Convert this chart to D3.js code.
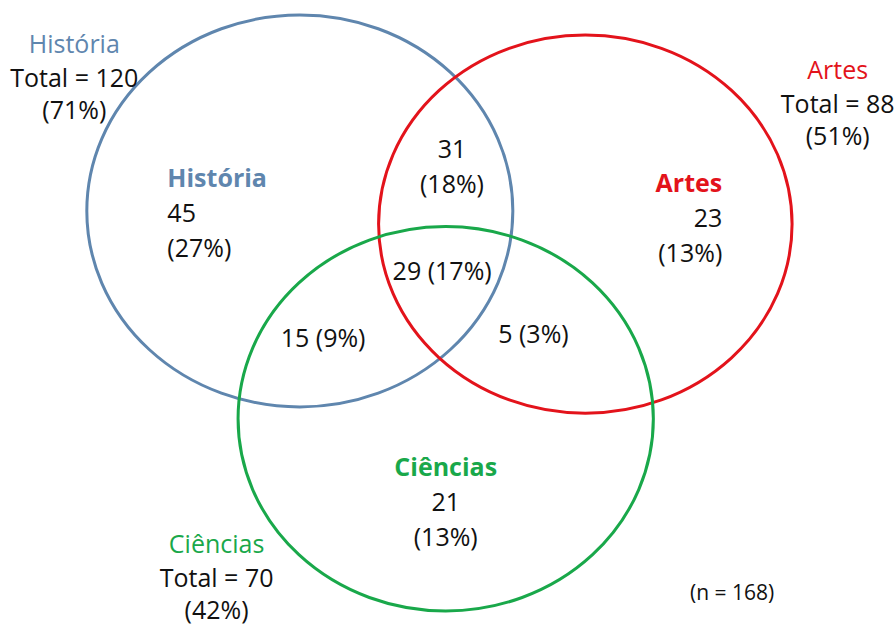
<!DOCTYPE html>
<html>
<head>
<meta charset="utf-8">
<script src="https://cdn.jsdelivr.net/npm/d3@7"></script>
<style>
  body { margin: 0; background: #fff; }
  text { font-family: "Open Sans", "Noto Sans", sans-serif; }
</style>
</head>
<body>
<div id="chart"></div>
<script>
// sets of the diagram
const sets = ["História", "Artes", "Ciências"];
const setColors = ["#5f86ae", "#e3131b", "#19a84a"];
const setTotals = [120, 88, 70];
const setPercents = ["71%", "51%", "42%"];
const n = 168;

// regions: only-one-set values and overlaps
const regions = ["H", "A", "C", "HA", "HAC", "HC", "AC"];
const regionValues = [45, 23, 21, 31, 29, 15, 5];
const regionPercents = ["27%", "13%", "13%", "18%", "17%", "9%", "3%"];

const width = 895, height = 626;

// the original is stretched a bit horizontally, so circles are drawn as ellipses
const x = d3.scaleLinear().domain([0, 100]).range([0, width]);
const y = d3.scaleLinear().domain([0, 100]).range([0, height]);

// ellipse layout (in percent of the picture)
const shapes = [
    {cx: 33.5, cy: 33.7, rx: 23.8, ry: 31.3},
    {cx: 65.4, cy: 35.8, rx: 23.1, ry: 30.2},
    {cx: 49.8, cy: 66.9, rx: 23.2, ry: 30.7}
];

const svg = d3.select("#chart")
    .append("svg")
    .attr("width", width)
    .attr("height", height);

svg.selectAll("ellipse")
    .data(shapes)
    .join("ellipse")
    .attr("cx", d => x(d.cx))
    .attr("cy", d => y(d.cy))
    .attr("rx", d => x(d.rx))
    .attr("ry", d => y(d.ry))
    .attr("fill", "none")
    .attr("stroke", (d, i) => setColors[i])
    .attr("stroke-width", 3);

const fs = 25;

// outside labels with totals
const outside = [
    {x: 8.3, y: 8.4},
    {x: 93.6, y: 12.6},
    {x: 24.2, y: 88.4}
];
outside.forEach((p, i) => {
    const g = svg.append("g")
        .attr("transform", `translate(${x(p.x)}, ${y(p.y)})`)
        .style("font-size", fs + "px")
        .attr("text-anchor", "middle");
    g.append("text").attr("y", 0).attr("fill", setColors[i]).text(sets[i]);
    g.append("text").attr("y", 34).attr("fill", "#111").text(`Total = ${setTotals[i]}`);
    g.append("text").attr("y", 66).attr("fill", "#111").text(`(${setPercents[i]})`);
});

// set name inside its own region, plus value
const inner = [
    {x: 18.7, y: 29.8, anchor: "start"},
    {x: 80.7, y: 30.6, anchor: "end"},
    {x: 49.8, y: 76.0, anchor: "middle"}
];
inner.forEach((p, i) => {
    const g = svg.append("g")
        .attr("transform", `translate(${x(p.x)}, ${y(p.y)})`)
        .style("font-size", fs + "px")
        .attr("text-anchor", p.anchor);
    g.append("text").attr("fill", setColors[i])
        .style("font-weight", "bold").text(sets[i]);
    g.append("text").attr("y", 35).attr("fill", "#111").text(regionValues[i]);
    g.append("text").attr("y", 70).attr("fill", "#111").text(`(${regionPercents[i]})`);
});

// overlap labels
const overlaps = [
    {key: "HA", x: 50.5, y: 25.2, twoLines: true},
    {key: "HAC", x: 49.4, y: 44.8},
    {key: "HC", x: 36.1, y: 55.5},
    {key: "AC", x: 59.6, y: 54.8}
];
overlaps.forEach(p => {
    const i = regions.indexOf(p.key);
    const g = svg.append("g")
        .attr("transform", `translate(${x(p.x)}, ${y(p.y)})`)
        .style("font-size", fs + "px")
        .attr("text-anchor", "middle")
        .attr("fill", "#111");
    if (p.twoLines) {
        g.append("text").text(regionValues[i]);
        g.append("text").attr("y", 35).text(`(${regionPercents[i]})`);
    } else {
        g.append("text").text(`${regionValues[i]} (${regionPercents[i]})`);
    }
});

svg.append("text")
    .attr("x", x(81.8))
    .attr("y", y(95.8))
    .attr("text-anchor", "middle")
    .style("font-size", "21px")
    .attr("fill", "#111")
    .text(`(n = ${n})`);
</script>
</body>
</html>
